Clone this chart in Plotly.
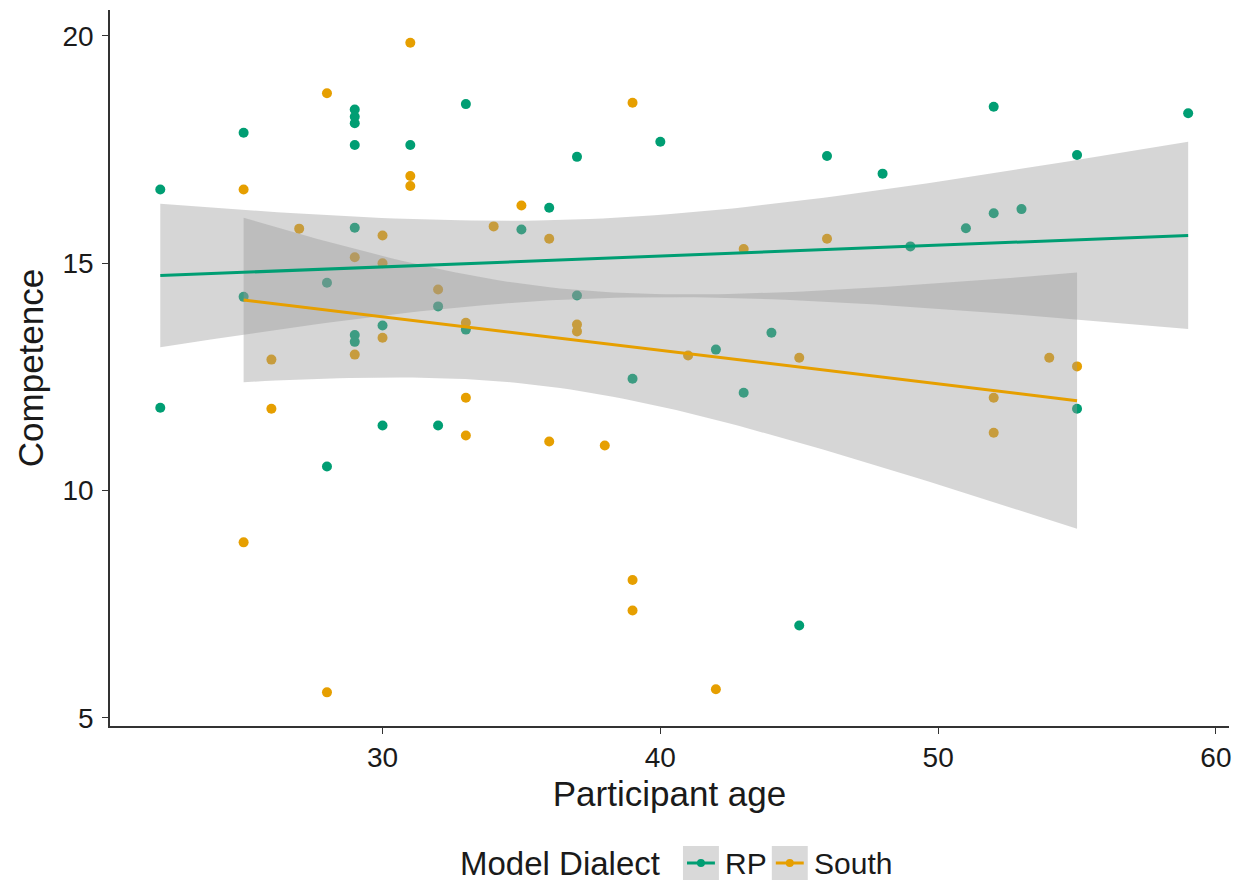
import numpy as np
import plotly.graph_objects as go

# Participant age and competence scores, by model dialect
rp_age = [22, 22, 25, 25, 28, 28, 29, 29, 29, 29, 29, 29, 29, 30, 30, 31, 32, 32,
          33, 33, 35, 36, 37, 37, 39, 40, 42, 43, 44, 45, 46, 48, 49, 51, 52, 52,
          53, 55, 55, 59]
rp_comp = [16.62, 11.82, 17.87, 14.26, 10.53, 14.57, 18.38, 18.22, 18.08, 17.6,
           15.78, 13.42, 13.27, 13.63, 11.43, 17.6, 14.05, 11.43, 18.5, 13.54,
           15.74, 16.22, 17.34, 14.29, 12.46, 17.67, 13.1, 12.15, 13.47, 7.03,
           17.36, 16.97, 15.37, 15.77, 18.44, 16.1, 16.19, 17.38, 11.8, 18.3]

south_age = [25, 25, 26, 26, 27, 28, 28, 29, 29, 30, 30, 30, 31, 31, 31, 32, 33, 33,
             33, 34, 35, 36, 36, 37, 37, 38, 39, 39, 39, 41, 42, 43, 45, 46, 52, 52,
             54, 55]
south_comp = [16.62, 8.86, 12.88, 11.8, 15.76, 18.74, 5.56, 15.13, 12.99, 15.61,
              15.0, 13.36, 19.85, 16.92, 16.7, 14.42, 13.69, 12.04, 11.21, 15.81,
              16.27, 15.54, 11.08, 13.65, 13.5, 10.99, 18.53, 8.03, 7.36, 12.97,
              5.63, 15.31, 12.92, 15.54, 12.04, 11.27, 12.92, 12.73]

groups = ["RP", "South"]
colors = {"RP": "#009E73", "South": "#E69F00"}
data = {"RP": (rp_age, rp_comp), "South": (south_age, south_comp)}

x_ticks = [30, 40, 50, 60]
y_ticks = [5, 10, 15, 20]
legend_title = "Model Dialect"

FONT = "Liberation Sans, Arial, sans-serif"
TEXT = "#1a1a1a"
BAND = "rgba(153,153,153,0.4)"
KEY_BG = "#d9d9d9"

# canvas and plot area in pixels
W, H = 1233, 881
ML, MR, MT, MB = 110, 2, 10, 155
PW, PH = W - ML - MR, H - MT - MB


def px_x(px):
    return (px - ML) / PW


def px_y(py):
    return (H - MB - py) / PH


def t_quantile(df, p=0.975):
    # Cornish-Fisher expansion of the Student t quantile
    z = 1.959963985
    g1 = (z**3 + z) / 4
    g2 = (5 * z**5 + 16 * z**3 + 3 * z) / 96
    g3 = (3 * z**7 + 19 * z**5 + 17 * z**3 - 15 * z) / 384
    return z + g1 / df + g2 / df**2 + g3 / df**3


def linear_fit(x, y, n_out=80):
    x = np.asarray(x, float)
    y = np.asarray(y, float)
    n = len(x)
    b, a = np.polyfit(x, y, 1)
    resid = y - (a + b * x)
    s = np.sqrt(np.sum(resid**2) / (n - 2))
    sxx = np.sum((x - x.mean()) ** 2)
    xs = np.linspace(x.min(), x.max(), n_out)
    fit = a + b * xs
    se = s * np.sqrt(1 / n + (xs - x.mean()) ** 2 / sxx)
    t = t_quantile(n - 2)
    return xs, fit, fit - t * se, fit + t * se


fig = go.Figure()

# raw points
for g in groups:
    ages, comp = data[g]
    fig.add_trace(go.Scatter(
        x=ages, y=comp, mode="markers", name=g, showlegend=False,
        marker=dict(color=colors[g], size=10, line=dict(width=0)),
    ))

fits = {g: linear_fit(*data[g]) for g in groups}

# confidence bands
for g in groups:
    xs, fit, lo, hi = fits[g]
    fig.add_trace(go.Scatter(
        x=np.concatenate([xs, xs[::-1]]), y=np.concatenate([hi, lo[::-1]]),
        fill="toself", fillcolor=BAND, mode="lines", line=dict(width=0),
        showlegend=False, hoverinfo="skip",
    ))

# regression lines
for g in groups:
    xs, fit, lo, hi = fits[g]
    fig.add_trace(go.Scatter(
        x=xs, y=fit, mode="lines", name=g, showlegend=False,
        line=dict(color=colors[g], width=3),
    ))

# bottom legend: title, then a grey key box with line + dot per group
shapes, annotations = [], []
LEG_Y = 863
annotations.append(dict(
    text=legend_title, xref="paper", yref="paper", x=px_x(459), y=px_y(LEG_Y),
    xanchor="left", yanchor="middle", showarrow=False,
    font=dict(family=FONT, size=33, color=TEXT),
))
key_left = {"RP": 684, "South": 773}
label_left = {"RP": 724, "South": 813}
for g in groups:
    k0 = key_left[g]
    shapes.append(dict(type="rect", xref="paper", yref="paper",
                       x0=px_x(k0), x1=px_x(k0 + 36),
                       y0=px_y(LEG_Y + 17), y1=px_y(LEG_Y - 17),
                       fillcolor=KEY_BG, line=dict(width=0), layer="above"))
    shapes.append(dict(type="line", xref="paper", yref="paper",
                       x0=px_x(k0 + 4), x1=px_x(k0 + 32),
                       y0=px_y(LEG_Y), y1=px_y(LEG_Y),
                       line=dict(color=colors[g], width=3), layer="above"))
    shapes.append(dict(type="circle", xref="paper", yref="paper",
                       x0=px_x(k0 + 14), x1=px_x(k0 + 22),
                       y0=px_y(LEG_Y + 4), y1=px_y(LEG_Y - 4),
                       fillcolor=colors[g], line=dict(width=0), layer="above"))
    annotations.append(dict(
        text=g, xref="paper", yref="paper", x=px_x(label_left[g]), y=px_y(LEG_Y),
        xanchor="left", yanchor="middle", showarrow=False,
        font=dict(family=FONT, size=30, color=TEXT),
    ))

axis_common = dict(
    showgrid=False, zeroline=False, showline=True, linecolor="#333333",
    linewidth=1.6, ticks="outside", ticklen=6, tickwidth=1.4,
    tickcolor="#333333", ticklabeloverflow="allow",
    tickfont=dict(family=FONT, size=28, color=TEXT),
)

fig.update_layout(
    width=W, height=H,
    margin=dict(l=ML, r=MR, t=MT, b=MB),
    paper_bgcolor="white", plot_bgcolor="white",
    font=dict(family=FONT, color=TEXT),
    showlegend=False,
    xaxis=dict(range=[20.19, 60.47], tickvals=x_ticks,
               title=dict(text="Participant age", font=dict(size=35), standoff=9),
               **axis_common),
    yaxis=dict(range=[4.82, 20.57], tickvals=y_ticks, ticklabelstandoff=3,
               title=dict(text="Competence", font=dict(size=35), standoff=8),
               **axis_common),
    shapes=shapes,
    annotations=annotations,
)

fig.write_html("out.html")
